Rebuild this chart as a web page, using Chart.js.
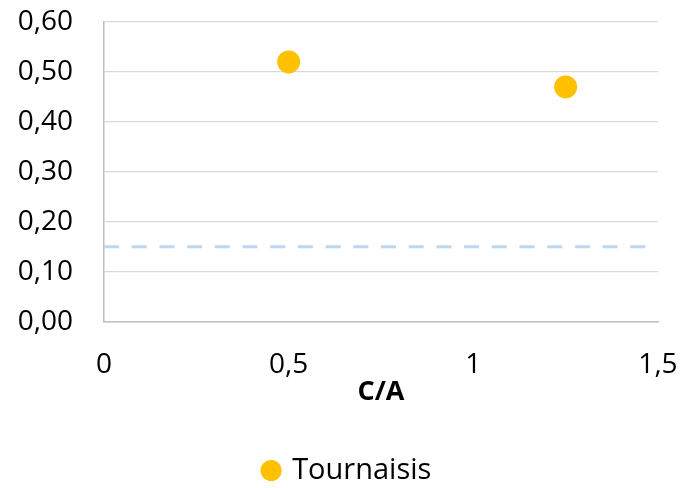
<!DOCTYPE html>
<html>
<head>
<meta charset="utf-8">
<script src="https://cdn.jsdelivr.net/npm/chart.js@4/dist/chart.umd.min.js"></script>
<style>
  html, body { margin: 0; padding: 0; background: #fff; }
  #wrap { width: 684px; height: 488px; }
</style>
</head>
<body>
<div id="wrap"><canvas id="c" width="684" height="488"></canvas></div>
<script>
// Series: Tournaisis (C/A ratio vs value)
const seriesName = 'Tournaisis';
const caValues = [0.5, 1.25];
const yValues = [0.52, 0.47];

// Reference threshold line
const thresholdX = [0, 1.5];
const thresholdY = [0.15, 0.15];

// Axis settings
const xTicks = [0, 0.5, 1, 1.5];
const yTicks = [0, 0.1, 0.2, 0.3, 0.4, 0.5, 0.6];
const xTitle = 'C/A';

const FONT = '"Open Sans", sans-serif';
const comma = (v, d) => v.toFixed(d).replace('.', ',');

// Centre the legend under the plot area rather than the whole canvas
const legendUnderPlot = {
  id: 'legendUnderPlot',
  afterLayout(chart) {
    if (chart.legend) chart.legend.left += 38;
  }
};

new Chart(document.getElementById('c'), {
  type: 'scatter',
  plugins: [legendUnderPlot],
  data: {
    datasets: [
      {
        label: seriesName,
        data: caValues.map((x, i) => ({ x, y: yValues[i] })),
        backgroundColor: '#FFC000',
        borderColor: '#FFC000',
        borderWidth: 0,
        pointRadius: 11.5,
        pointHoverRadius: 11.5,
        order: 1
      },
      {
        label: 'seuil',
        type: 'line',
        data: thresholdX.map((x, i) => ({ x, y: thresholdY[i] })),
        borderColor: '#BDD7EE',
        borderWidth: 3,
        borderDash: [15, 12.7],
        pointRadius: 0,
        fill: false,
        order: 2
      }
    ]
  },
  options: {
    responsive: false,
    animation: false,
    layout: { padding: { top: 22, right: 26, left: 0, bottom: -7 } },
    plugins: {
      tooltip: { enabled: false },
      legend: {
        position: 'bottom',
        labels: {
          filter: (item) => item.text === seriesName,
          usePointStyle: true,
          pointStyle: 'circle',
          boxWidth: 13,
          boxHeight: 15,
          padding: 1.2,
          color: '#000',
          font: { family: FONT, size: 29 }
        }
      }
    },
    scales: {
      x: {
        type: 'linear',
        min: 0,
        max: 1.5,
        afterBuildTicks: (s) => { s.ticks = xTicks.map(v => ({ value: v })); },
        afterFit: (s) => { s.height = 133; s.paddingLeft = 0; s.paddingRight = 0; },
        grid: { display: false, drawTicks: false },
        border: { display: true, color: '#BFBFBF', width: 1.5 },
        ticks: {
          padding: 26,
          color: '#000',
          font: { family: FONT, size: 28 },
          maxRotation: 0,
          callback: (v) => comma(v, v % 1 === 0 ? 0 : 1)
        },
        title: {
          display: true,
          text: xTitle,
          color: '#000',
          font: { family: FONT, size: 27, weight: 'bold' },
          padding: { top: 0, bottom: 45.8 }
        }
      },
      y: {
        type: 'linear',
        min: 0,
        max: 0.6,
        afterBuildTicks: (s) => { s.ticks = yTicks.map(v => ({ value: v })); },
        afterFit: (s) => { s.width = 104; s.paddingTop = 0; s.paddingBottom = 0; },
        grid: { color: '#D9D9D9', lineWidth: 1.3, drawTicks: false },
        border: { display: true, color: '#BFBFBF', width: 1.5 },
        ticks: {
          padding: 31,
          color: '#000',
          font: { family: FONT, size: 28 },
          callback: (v) => comma(v, 2)
        }
      }
    }
  }
});
</script>
</body>
</html>
